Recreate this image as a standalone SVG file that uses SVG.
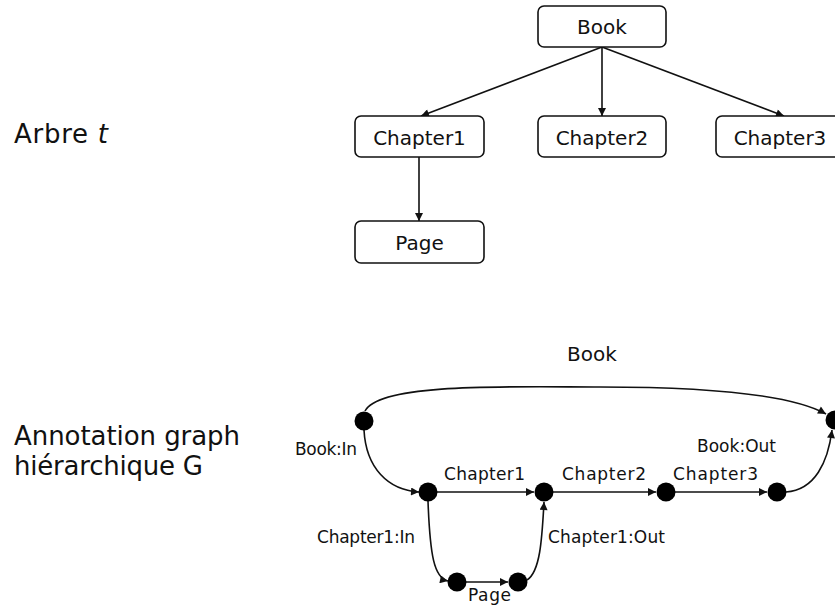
<svg xmlns="http://www.w3.org/2000/svg" width="835" height="609" viewBox="0 0 835 609">
<style>
text{font-family:"DejaVu Sans","Liberation Sans",sans-serif;fill:#111}
.box{fill:#fff;stroke:#111;stroke-width:1.6}
.lbl{font-size:20px;text-anchor:middle}
.gl{font-size:17px}
.side{font-size:26px}
.e{fill:none;stroke:#111;stroke-width:1.6;marker-end:url(#ah)}
.dot{fill:#000}
</style>
<defs>
<marker id="ah" viewBox="0 0 10 10" refX="10" refY="5" markerWidth="9" markerHeight="8" markerUnits="userSpaceOnUse" orient="auto">
<path d="M0,0 L10,5 L0,10 z" fill="#111"/>
</marker>
</defs>
<rect width="835" height="609" fill="#fff"/>
<g id="side-labels">
<text class="side" x="14" y="143" textLength="94">Arbre <tspan font-style="italic">t</tspan></text>
<text class="side" x="14" y="445" textLength="226">Annotation graph</text>
<text class="side" x="14" y="475" textLength="189">hiérarchique G</text>
</g>
<g id="tree-edges">
<path class="e" d="M602,47 L421,116"/>
<path class="e" d="M602,47 L602,116"/>
<path class="e" d="M602,47 L784,116"/>
<path class="e" d="M419,157 L419,221"/>
</g>
<g id="t-book"><rect class="box" x="538" y="6" width="128" height="41" rx="6"/><text class="lbl" x="602" y="34">Book</text></g>
<g id="t-chapter1"><rect class="box" x="355" y="116" width="129" height="41" rx="6"/><text class="lbl" x="419.5" y="145">Chapter1</text></g>
<g id="t-chapter2"><rect class="box" x="538" y="116" width="128" height="41" rx="6"/><text class="lbl" x="602" y="145">Chapter2</text></g>
<g id="t-chapter3"><rect class="box" x="716" y="116" width="128" height="41" rx="6"/><text class="lbl" x="780" y="145">Chapter3</text></g>
<g id="t-page"><rect class="box" x="355" y="221" width="129" height="42" rx="6"/><text class="lbl" x="419.5" y="250">Page</text></g>
<g id="graph-edges">
<path class="e" d="M365,411 C380,382 520,387 600,387 C700,387 790,394 826,414"/>
<path class="e" d="M364,430 C366,468 388,490 419,492"/>
<path class="e" d="M437,492 L534,492"/>
<path class="e" d="M553,492 L656,492"/>
<path class="e" d="M675,492 L767,492"/>
<path class="e" d="M428,501 C430,555 434,578 448,581"/>
<path class="e" d="M466,582 L508,582"/>
<path class="e" d="M527,580 C540,572 542,540 544,502"/>
<path class="e" d="M786,492 C815,490 828,462 832,430"/>
</g>
<g id="n-bookin"><circle class="dot" cx="364" cy="421" r="9.5"/><text class="gl" x="295" y="455" textLength="62">Book:In</text></g>
<g id="n-bookout"><circle class="dot" cx="835" cy="420" r="9.5"/><text class="gl" x="697" y="452" textLength="79">Book:Out</text></g>
<g id="n-ch1in"><circle class="dot" cx="428" cy="492" r="9.5"/><text class="gl" x="317" y="543" textLength="98">Chapter1:In</text></g>
<g id="n-ch1out"><circle class="dot" cx="544" cy="492" r="9.5"/><text class="gl" x="548" y="543" textLength="117">Chapter1:Out</text></g>
<g id="n-ch2"><circle class="dot" cx="666" cy="492" r="9.5"/></g>
<g id="n-ch3"><circle class="dot" cx="777" cy="492" r="9.5"/></g>
<g id="n-pagein"><circle class="dot" cx="457" cy="582" r="9.5"/></g>
<g id="n-pageout"><circle class="dot" cx="518" cy="582" r="9.5"/></g>
<g id="edge-labels">
<text class="lbl" x="592" y="361">Book</text>
<text class="gl" x="444" y="480" textLength="81">Chapter1</text>
<text class="gl" x="562" y="480" textLength="84">Chapter2</text>
<text class="gl" x="673" y="480" textLength="85">Chapter3</text>
<text class="gl" x="468" y="601" textLength="43">Page</text>
</g>
</svg>
